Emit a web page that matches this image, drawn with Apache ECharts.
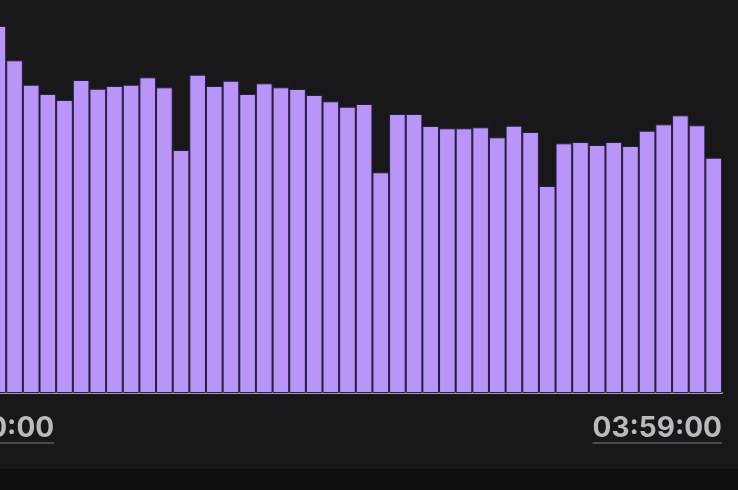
<!DOCTYPE html>
<html>
<head>
<meta charset="utf-8">
<script src="https://cdn.jsdelivr.net/npm/echarts@6/dist/echarts.min.js"></script>
<style>
  html, body { margin: 0; padding: 0; background: #0f0f11; }
  #main { width: 738px; height: 469px; background: #18181b; }
</style>
</head>
<body>
<div id="main"></div>
<script>
// bar heights (first four are off-screen to the left, guessed)
const values = [
  380, 372, 375, 370,
  367, 332.7, 308.3, 299, 293, 313, 304.3, 307, 308.3, 315.7,
  305.7, 243, 318.3, 307, 312.3, 299, 309.7, 305.7, 304, 298,
  291.7, 286.3, 289, 220.7, 279, 279, 267, 264.7, 264.7, 265.7,
  255.7, 267.3, 261, 207, 249.7, 251, 248, 251, 247, 262.3,
  268.7, 277.7, 267.7, 235.3
];
const edgeLabels = ['03:00:00', '03:59:00'];
const categories = values.map((v, i) => 'b' + i);

let chartDom = document.getElementById('main');
let myChart = echarts.init(chartDom);
let option = {
  animation: false,
  grid: {left: -77, right: 16, top: 0, bottom: 76, outerBoundsMode: 'none', containLabel: false},
  xAxis: [
    {
      type: 'category',
      data: categories,
      axisLine: {lineStyle: {color: '#a0a0a5', width: 2}},
      axisTick: {show: false},
      axisLabel: {show: false},
    },
    {
      type: 'category',
      position: 'bottom',
      boundaryGap: false,
      data: edgeLabels,
      axisLine: {show: false},
      axisTick: {show: false},
      axisLabel: {
        interval: 0,
        alignMinLabel: 'left',
        alignMaxLabel: 'right',
        margin: 22,
        formatter: v => '{t|' + v + '}\n{u|}',
        rich: {
          t: {
            color: '#b9b9be',
            fontFamily: 'Inter',
            fontWeight: 700,
            fontSize: 28,
            lineHeight: 27,
          },
          u: {
            width: '100%',
            height: 2,
            backgroundColor: '#4a4a50',
          },
        },
      },
    },
  ],
  yAxis: {
    type: 'value',
    min: 0,
    max: 393,
    show: false,
  },
  series: [
    {
      type: 'bar',
      data: values,
      barCategoryGap: '0%',
      itemStyle: {
        color: '#b995f7',
        borderColor: '#2a1d45',
        borderWidth: 1,
      },
    },
  ],
};
option && myChart.setOption(option);
</script>
</body>
</html>
